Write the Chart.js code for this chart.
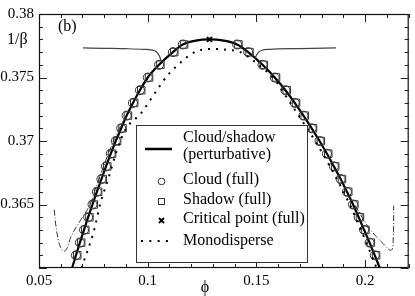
<!DOCTYPE html>
<html>
<head>
<meta charset="utf-8">
<script src="https://cdn.jsdelivr.net/npm/chart.js@4.4.1/dist/chart.umd.min.js"></script>
<style>
  html, body { margin: 0; padding: 0; background: #fff; }
  #wrap { width: 415px; height: 296px; }
</style>
</head>
<body>
<div id="wrap"><canvas id="grafica" width="415" height="296"></canvas></div>
<script>
// ---- data ----
// perturbative cloud/shadow curve (thick line)
const solidX = [0.0652, 0.0670, 0.0688, 0.0707, 0.0726, 0.0746, 0.0766, 0.0787, 0.0808, 0.0830,
  0.0853, 0.0878, 0.0903, 0.0932, 0.0964, 0.1000, 0.1052, 0.1116, 0.1161, 0.1220,
  0.1284, 0.1350, 0.1411, 0.1462, 0.1528, 0.1584, 0.1633, 0.1676, 0.1716, 0.1754,
  0.1790, 0.1824, 0.1856, 0.1887, 0.1916, 0.1944, 0.1970, 0.1995, 0.2020, 0.2044, 0.2067];
const solidY = [0.360, 0.361, 0.362, 0.363, 0.364, 0.365, 0.366, 0.367, 0.368, 0.369,
  0.370, 0.371, 0.372, 0.373, 0.374, 0.375, 0.376, 0.377, 0.3776, 0.3779,
  0.3780, 0.3779, 0.3776, 0.377, 0.376, 0.375, 0.374, 0.373, 0.372, 0.371,
  0.370, 0.369, 0.368, 0.367, 0.366, 0.365, 0.364, 0.363, 0.362, 0.361, 0.360];

// thin line (left and right pieces)
const thinLeftX = [0.0702, 0.0800, 0.0900, 0.0980, 0.1020, 0.1038, 0.1050, 0.1058, 0.1062];
const thinLeftY = [0.37733, 0.37730, 0.37727, 0.37722, 0.37716, 0.37704, 0.3768, 0.3765, 0.3763];
const thinRightX = [0.1493, 0.1500, 0.1510, 0.1525, 0.1560, 0.1700, 0.1866];
const thinRightY = [0.3765, 0.37675, 0.3770, 0.37715, 0.37722, 0.37728, 0.37733];

// dash-dot line (left and right pieces)
const dashLeftX = [0.0570, 0.0578, 0.0590, 0.0603, 0.0614, 0.0630, 0.0648, 0.0692, 0.0735, 0.0755,
  0.0776, 0.0797, 0.0819, 0.0843, 0.0870, 0.0900];
const dashLeftY = [0.3646, 0.3633, 0.3621, 0.3615, 0.3613, 0.3616, 0.3625, 0.3638, 0.3650, 0.3660,
  0.3670, 0.3680, 0.3690, 0.3700, 0.3710, 0.3720];
const dashRightX = [0.1880, 0.1920, 0.1961, 0.2020, 0.2084, 0.2120, 0.2129, 0.2131];
const dashRightY = [0.3672, 0.3658, 0.3647, 0.3631, 0.3619, 0.3614, 0.3624, 0.3649];

// monodisperse (dotted)
const monoX = [0.0695, 0.0752, 0.0784, 0.0820, 0.0857, 0.0898, 0.0970, 0.1034, 0.1093, 0.1152, 0.1216, 0.1284,
  0.1350, 0.1425, 0.1502, 0.1580, 0.1652, 0.1694, 0.1733, 0.1770, 0.1805, 0.1838, 0.1870, 0.1900,
  0.1929, 0.1955, 0.1980, 0.2005, 0.2029, 0.2052];
const monoY = [0.3600, 0.3629, 0.3652, 0.3671, 0.3692, 0.3709, 0.3722, 0.3738, 0.3752, 0.3762, 0.3770, 0.37725,
  0.3772, 0.3770, 0.3761, 0.3749, 0.3731, 0.372, 0.371, 0.370, 0.369, 0.368, 0.367, 0.366,
  0.365, 0.364, 0.363, 0.362, 0.361, 0.360];

// full calculation: cloud (circles) and shadow (squares)
const cloudX = [0.0670, 0.0688, 0.0707, 0.0726, 0.0746, 0.0766, 0.0787, 0.0808, 0.0830, 0.0853,
  0.0878, 0.0903, 0.0932, 0.0964, 0.1000, 0.1052, 0.1116, 0.1161,
  0.1411, 0.1462, 0.1528, 0.1584, 0.1633, 0.1676, 0.1716, 0.1754, 0.1790,
  0.1824, 0.1856, 0.1887, 0.1916, 0.1944, 0.1970, 0.1995, 0.2020, 0.2044];
const cloudY = [0.361, 0.362, 0.363, 0.364, 0.365, 0.366, 0.367, 0.368, 0.369, 0.370,
  0.371, 0.372, 0.373, 0.374, 0.375, 0.376, 0.377, 0.3776,
  0.3776, 0.377, 0.376, 0.375, 0.374, 0.373, 0.372, 0.371, 0.370,
  0.369, 0.368, 0.367, 0.366, 0.365, 0.364, 0.363, 0.362, 0.361];
const shadowX = [0.0676, 0.0694, 0.0713, 0.0732, 0.0752, 0.0772, 0.0793, 0.0814, 0.0836, 0.0859,
  0.0884, 0.0909, 0.0938, 0.0970, 0.1006, 0.1058, 0.1122, 0.1167,
  0.1417, 0.1468, 0.1534, 0.1590, 0.1639, 0.1682, 0.1722, 0.1760, 0.1796,
  0.1830, 0.1862, 0.1893, 0.1922, 0.1950, 0.1976, 0.2001, 0.2026, 0.2050];
const shadowY = cloudY;

// critical point
const critX = [0.1284];
const critY = [0.3780];

// axes
const xTickValues = [0.05, 0.1, 0.15, 0.2];
const xTickLabels = ['0.05', '0.1', '0.15', '0.2'];
const yTickValues = [0.365, 0.37, 0.375, 0.38];
const yTickLabels = ['0.365', '0.37', '0.375', '0.38'];

const legendLabels = ['Cloud/shadow', '(perturbative)', 'Cloud (full)', 'Shadow (full)', 'Critical point (full)', 'Monodisperse'];

const SERIF = '"Liberation Serif", "Times New Roman", serif';

function pts(xs, ys) {
  return xs.map((x, i) => ({ x: x, y: ys[i] }));
}

// inward ticks, frame, annotations, legend
const framePlugin = {
  id: 'frame',
  afterDatasetsDraw(chart) {
    const ctx = chart.ctx;
    const a = chart.chartArea;
    const xs = chart.scales.x, ys = chart.scales.y;
    ctx.save();
    ctx.strokeStyle = '#222';
    ctx.lineWidth = 1;
    // x ticks every 0.01, long ones every 0.05
    for (let i = 5; i <= 22; i++) {
      const px = Math.round(xs.getPixelForValue(i / 100)) + 0.5;
      const len = (i % 5 === 0) ? 8 : 4;
      ctx.beginPath();
      ctx.moveTo(px, a.bottom); ctx.lineTo(px, a.bottom - len);
      ctx.moveTo(px, a.top); ctx.lineTo(px, a.top + len);
      ctx.stroke();
    }
    // y ticks every 0.001
    for (let i = 360; i <= 380; i++) {
      const py = Math.round(ys.getPixelForValue(i / 1000)) + 0.5;
      const len = (i % 5 === 0) ? 8 : 4;
      ctx.beginPath();
      ctx.moveTo(a.left, py); ctx.lineTo(a.left + len, py);
      ctx.moveTo(a.right, py); ctx.lineTo(a.right - len, py);
      ctx.stroke();
    }
    ctx.lineWidth = 1.2;
    ctx.strokeStyle = '#111';
    ctx.strokeRect(a.left + 0.5, a.top + 0.5, a.right - a.left - 1, a.bottom - a.top - 1);

    // labels
    ctx.fillStyle = '#000';
    ctx.font = '16px ' + SERIF;
    ctx.textAlign = 'left';
    ctx.textBaseline = 'alphabetic';
    ctx.fillText('(b)', 58, 31);
    ctx.fillText('1/β', 7, Math.round(ys.getPixelForValue(0.378)) + 5);
    ctx.textAlign = 'center';
    ctx.fillText('ϕ', 205, 292);
    ctx.textAlign = 'left';

    // legend box
    const bx = 136.5, by = 125.5, bw = 171, bh = 137;
    ctx.fillStyle = '#fff';
    ctx.fillRect(bx, by, bw, bh);
    ctx.strokeStyle = '#333';
    ctx.lineWidth = 1;
    ctx.strokeRect(bx, by, bw, bh);

    ctx.strokeStyle = '#000';
    ctx.lineWidth = 2.5;
    ctx.beginPath(); ctx.moveTo(145, 149); ctx.lineTo(172, 149); ctx.stroke();

    ctx.lineWidth = 1;
    ctx.strokeStyle = '#333';
    ctx.beginPath(); ctx.arc(161.5, 181.5, 3.3, 0, Math.PI * 2); ctx.stroke();
    ctx.strokeRect(158.5, 198.5, 6, 6);
    ctx.lineWidth = 1.8;
    ctx.strokeStyle = '#000';
    ctx.beginPath();
    ctx.moveTo(159, 218); ctx.lineTo(164, 223);
    ctx.moveTo(164, 218); ctx.lineTo(159, 223);
    ctx.stroke();
    ctx.fillStyle = '#000';
    for (let k = 0; k < 4; k++) ctx.fillRect(141 + k * 8.3, 240, 2, 2);

    ctx.fillStyle = '#000';
    ctx.font = '16px ' + SERIF;
    ctx.fillText(legendLabels[0], 183, 142);
    ctx.fillText(legendLabels[1], 183, 159);
    ctx.fillText(legendLabels[2], 183, 184);
    ctx.fillText(legendLabels[3], 183, 204);
    ctx.fillText(legendLabels[4], 183, 223);
    ctx.fillText(legendLabels[5], 183, 245);
    ctx.restore();
  }
};

const data = {
  datasets: [
    { label: 'mono', data: pts(monoX, monoY), borderColor: '#000', borderWidth: 2, borderDash: [2, 6],
      pointRadius: 0, cubicInterpolationMode: 'monotone', fill: false },
    { label: 'dashL', data: pts(dashLeftX, dashLeftY), borderColor: '#333', borderWidth: 1, borderDash: [6, 2, 1, 2],
      pointRadius: 0, tension: 0.4, fill: false },
    { label: 'dashR', data: pts(dashRightX, dashRightY), borderColor: '#333', borderWidth: 1, borderDash: [6, 2, 1, 2],
      pointRadius: 0, tension: 0.4, fill: false },
    { label: 'thinL', data: pts(thinLeftX, thinLeftY), borderColor: '#444', borderWidth: 1.2,
      pointRadius: 0, cubicInterpolationMode: 'monotone', fill: false },
    { label: 'thinR', data: pts(thinRightX, thinRightY), borderColor: '#444', borderWidth: 1.2,
      pointRadius: 0, cubicInterpolationMode: 'monotone', fill: false },
    { label: 'Cloud (full)', data: pts(cloudX, cloudY), showLine: false, pointStyle: 'circle', pointRadius: 4.5,
      pointBorderColor: '#333', pointBackgroundColor: 'rgba(0,0,0,0)', pointBorderWidth: 1 },
    { label: 'Shadow (full)', data: pts(shadowX, shadowY), showLine: false, pointStyle: 'rect', pointRadius: 5.3,
      pointBorderColor: '#333', pointBackgroundColor: 'rgba(0,0,0,0)', pointBorderWidth: 1 },
    { label: 'Cloud/shadow (perturbative)', data: pts(solidX, solidY), borderColor: '#000', borderWidth: 2.2,
      pointRadius: 0, cubicInterpolationMode: 'monotone', fill: false },
    { label: 'Critical point (full)', data: pts(critX, critY), showLine: false, pointStyle: 'crossRot', pointRadius: 3.5,
      pointBorderColor: '#000', pointBorderWidth: 2 }
  ]
};

const config = {
  type: 'line',
  data: data,
  options: {
    responsive: false,
    animation: false,
    devicePixelRatio: 1,
    layout: { padding: { top: 6, right: 2, left: 0, bottom: 0 } },
    plugins: { legend: { display: false }, tooltip: { enabled: false } },
    scales: {
      x: {
        type: 'linear', min: 0.05, max: 0.22,
        grid: { display: false, drawTicks: false }, border: { display: false },
        afterFit: s => { s.height = 28; },
        afterBuildTicks: s => { s.ticks = xTickValues.map(v => ({ value: v })); },
        ticks: { padding: 4, color: '#000', font: { family: SERIF, size: 15 },
          callback: v => xTickLabels[xTickValues.indexOf(v)] }
      },
      y: {
        type: 'linear', min: 0.36, max: 0.38,
        grid: { display: false, drawTicks: false }, border: { display: false },
        afterFit: s => { s.width = 39; },
        afterBuildTicks: s => { s.ticks = yTickValues.map(v => ({ value: v })); },
        ticks: { padding: 5, color: '#000', font: { family: SERIF, size: 15 },
          callback: v => yTickLabels[yTickValues.indexOf(v)] }
      }
    }
  },
  plugins: [framePlugin]
};

const myChart = new Chart(document.getElementById('grafica'), config);
</script>
</body>
</html>
